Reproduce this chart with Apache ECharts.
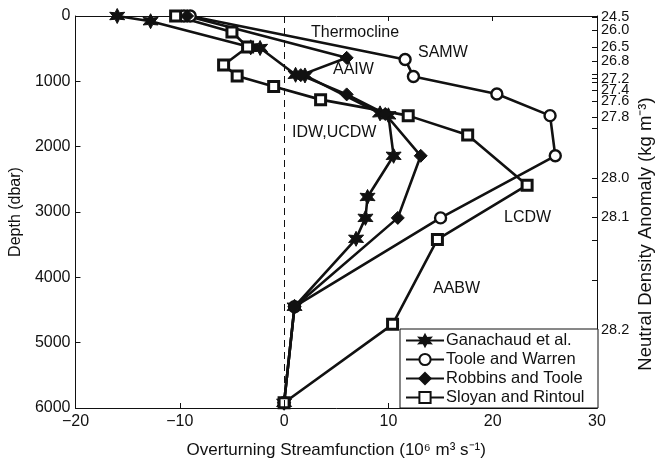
<!DOCTYPE html>
<html>
<head>
<meta charset="utf-8">
<script src="https://cdn.jsdelivr.net/npm/echarts@6/dist/echarts.min.js"></script>
<style>
  html, body { margin: 0; padding: 0; background: #fff; }
  #chart { width: 663px; height: 464px; }
</style>
</head>
<body>
<div id="chart"></div>
<script>
// [streamfunction (Sv), depth (dbar)]
const ganachaud = [[-16, 0], [-12.8, 80], [-3.2, 480], [-2.3, 490], [1.1, 900], [2.0, 910], [9.2, 1490], [10.0, 1520], [10.5, 2140], [8.0, 2770], [7.8, 3090], [6.9, 3410], [1.0, 4450], [0, 5920]]
const tooleWarren = [[-9.6, 0], [-9.0, 0], [11.6, 665], [12.4, 925], [20.4, 1195], [25.5, 1525], [26.0, 2140], [15.0, 3090], [1.0, 4450], [0, 5920]]
const robbinsToole = [[-9.3, 0], [6.0, 640], [1.6, 905], [6.0, 1200], [9.7, 1500], [13.1, 2140], [10.9, 3090], [1.0, 4450], [0, 5920]]
const sloyanRintoul = [[-10.4, 0], [-5.0, 245], [-3.5, 475], [-5.8, 750], [-4.5, 920], [-1.0, 1080], [3.5, 1280], [11.9, 1525], [17.6, 1820], [23.3, 2590], [14.7, 3420], [10.4, 4720], [0, 5920]]

const seriesNames = ['Ganachaud et al.', 'Toole and Warren', 'Robbins and Toole', 'Sloyan and Rintoul']

// neutral density surfaces on the right axis, depth (dbar) -> label
const surfaceDepth = 20
const surfaceLabel = '24.5'
const densityDepths = [214, 475, 690, 960, 1133, 1300, 1546, 2480, 3078, 4807]
const densityLabels = ['26.0', '26.5', '26.8', '27.2', '27.4', '27.6', '27.8', '28.0', '28.1', '28.2']
const densityMinorDepths = [890, 1020, 1715, 2771, 3430, 4042]

// water mass annotations: [label, x px, y px]
const waterMasses = [['Thermocline', 311, 33], ['SAMW', 418, 53], ['AAIW', 333, 70], ['IDW,UCDW', 292, 133], ['LCDW', 504, 218], ['AABW', 433, 289]]

const starPath = 'path://M10 0 L12.5 5.67 L18.66 5 L15 10 L18.66 15 L12.5 14.33 L10 20 L7.5 14.33 L1.34 15 L5 10 L1.34 5 L7.5 5.67 Z'

const ink = '#111'
const font = 'Liberation Sans, Arial, sans-serif'
const fs = 16

const chart = echarts.init(document.getElementById('chart'), null, { renderer: 'canvas' })

function lineSeries(name, data, symbol, size, fill, bw) {
  return {
    name,
    type: 'line',
    data,
    symbol,
    symbolSize: size,
    showSymbol: true,
    lineStyle: { color: ink, width: 2.6 },
    itemStyle: { color: fill, borderColor: ink, borderWidth: bw },
    z: 3
  }
}

const axisCommon = {
  axisLine: { show: true, onZero: false, lineStyle: { color: ink, width: 1 } },
  axisTick: { show: true, inside: true, length: 5, lineStyle: { color: ink } },
  splitLine: { show: false },
  axisLabel: { color: ink, fontSize: fs, fontFamily: font, hideOverlap: false }
}

const densityAxisLabel = {
  ...axisCommon.axisLabel,
  fontSize: 14.5,
  margin: 4,
  lineHeight: 11,
  showMinLabel: true,
  showMaxLabel: true
}

chart.setOption({
  backgroundColor: '#fff',
  animation: false,
  grid: { left: 75, right: 66, top: 16, bottom: 56 },
  xAxis: [
    {
      ...axisCommon,
      type: 'value',
      position: 'bottom',
      min: -20,
      max: 30,
      interval: 10,
      axisLabel: { ...axisCommon.axisLabel, margin: 6, formatter: (v) => (v < 0 ? '\u2212' + Math.abs(v) : String(v)) },
      name: 'Overturning Streamfunction (10\u2076 m\u00b3 s\u207b\u00b9)',
      nameLocation: 'middle',
      nameGap: 34,
      nameTextStyle: { color: ink, fontSize: 17, fontFamily: font }
    },
    {
      ...axisCommon,
      type: 'value',
      position: 'top',
      min: -20,
      max: 30,
      interval: 10,
      axisLabel: { show: false }
    }
  ],
  yAxis: [
    {
      ...axisCommon,
      type: 'value',
      position: 'left',
      inverse: true,
      min: 0,
      max: 6000,
      interval: 1000,
      axisLabel: { ...axisCommon.axisLabel, margin: 5, formatter: (v) => String(v) },
      name: 'Depth (dbar)',
      nameLocation: 'middle',
      nameGap: 50,
      nameRotate: 90,
      nameTextStyle: { color: ink, fontSize: fs, fontFamily: font }
    },
    {
      ...axisCommon,
      type: 'value',
      position: 'right',
      inverse: true,
      min: 0,
      max: 6000,
      axisTick: { show: true, inside: true, length: 5, lineStyle: { color: ink }, customValues: [surfaceDepth].concat(densityDepths, densityMinorDepths) },
      axisLabel: {
        ...densityAxisLabel,
        customValues: densityDepths,
        formatter: (v) => densityLabels[densityDepths.indexOf(v)]
      }
    },
    {
      type: 'value',
      position: 'right',
      inverse: true,
      min: 0,
      max: 6000,
      axisLine: { show: false, onZero: false },
      axisTick: { show: false },
      splitLine: { show: false },
      axisLabel: {
        ...densityAxisLabel,
        customValues: [surfaceDepth],
        formatter: () => surfaceLabel
      }
    }
  ],
  legend: {
    data: seriesNames,
    orient: 'vertical',
    left: 401,
    top: 331,
    z: 10,
    padding: [1, 4, 1, 4],
    itemGap: 2,
    itemWidth: 38,
    itemHeight: 14,
    textStyle: { color: ink, fontSize: 16.5, fontFamily: font, padding: [0, 0, 0, -3] }
  },
  series: [
    {
      ...lineSeries(seriesNames[0], ganachaud, starPath, 15, ink, 1),
      markLine: {
        silent: true,
        symbol: 'none',
        label: { show: false },
        lineStyle: { color: ink, type: [7, 5], width: 1 },
        data: [{ xAxis: 0 }]
      }
    },
    lineSeries(seriesNames[1], tooleWarren, 'circle', 11, '#fff', 2.4),
    lineSeries(seriesNames[2], robbinsToole, 'diamond', 13, ink, 1),
    lineSeries(seriesNames[3], sloyanRintoul, 'rect', 10, '#fff', 3)
  ],
  graphic: [
    { type: 'rect', shape: { x: 400, y: 329, width: 198, height: 79 }, style: { fill: '#fff', stroke: ink, lineWidth: 1 }, z: 1 },
    {
      type: 'text',
      x: 646,
      y: 234,
      rotation: Math.PI / 2,
      style: { text: 'Neutral Density Anomaly (kg m\u207b\u00b3)', fill: ink, font: '18.5px ' + font, align: 'center', verticalAlign: 'middle' }
    }
  ].concat(waterMasses.map(([text, x, y]) => ({
    type: 'text',
    x,
    y,
    style: { text, fill: ink, font: fs + 'px ' + font, verticalAlign: 'middle' }
  })))
})
</script>
</body>
</html>
